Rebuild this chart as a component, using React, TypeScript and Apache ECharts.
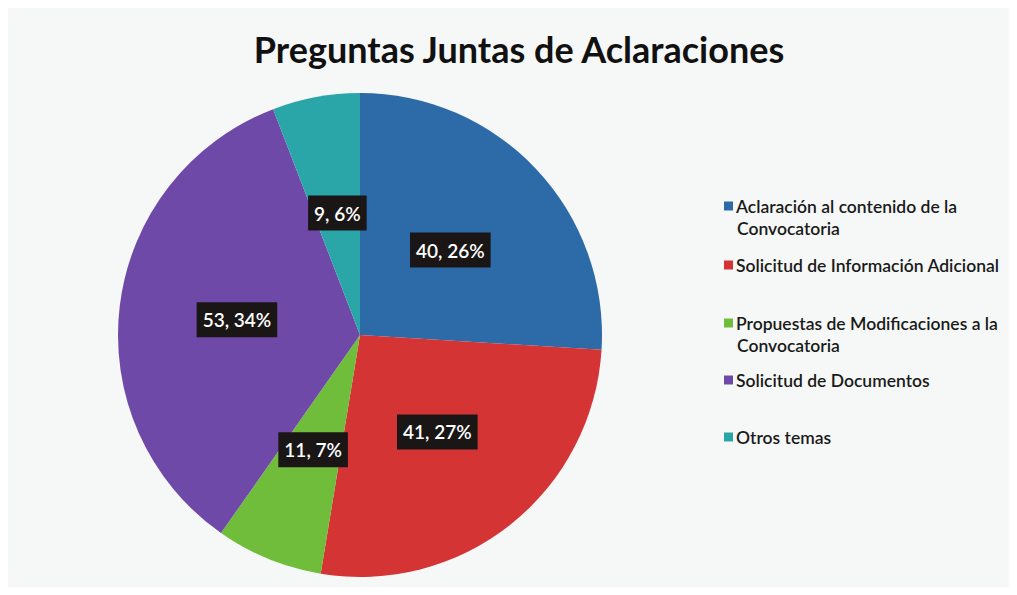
import React, { useEffect, useRef } from "react";
import * as echarts from "echarts";

const categories = [
  "Aclaración al contenido de la Convocatoria",
  "Solicitud de Información Adicional",
  "Propuestas de Modificaciones a la Convocatoria",
  "Solicitud de Documentos",
  "Otros temas",
];
const legendFirstLines = [
  "Aclaración al contenido de la",
  "Solicitud de Información Adicional",
  "Propuestas de Modificaciones a la",
  "Solicitud de Documentos",
  "Otros temas",
];
const legendSecondLines = ["Convocatoria", "", "Convocatoria", "", ""];
const values = [40, 41, 11, 53, 9];
const percents = [26, 27, 7, 34, 6];
const colors = ["#2c6aa8", "#d43434", "#6fbd3a", "#6f49a8", "#2aa6a8"];
const legendTops = [184, 243, 301, 358, 415];

export default function App() {
  const ref = useRef<HTMLDivElement>(null);
  useEffect(() => {
    if (!ref.current) return;
    const chart = echarts.init(ref.current, undefined, { renderer: "svg" });
    const font = "Lato, 'Open Sans', sans-serif";
    const legendText = {
      fontFamily: font,
      fontSize: 17.5,
      fontWeight: 600,
      color: "#1a1a1a",
    };
    chart.setOption({
      animation: false,
      backgroundColor: "#f6f8f7",
      title: {
        text: "Preguntas Juntas de Aclaraciones",
        left: 506,
        top: 18,
        textAlign: "center",
        textStyle: { fontFamily: font, fontSize: 36, fontWeight: "bold", color: "#111" },
      },
      legend: categories.map((c, i) => ({
        data: [c],
        left: 711,
        top: legendTops[i],
        orient: "vertical",
        icon: "rect",
        itemWidth: 9,
        itemHeight: 9,
        itemGap: 4,
        selectedMode: false,
        formatter: () => legendFirstLines[i],
        textStyle: { ...legendText, padding: [0, 0, 0, -2] },
      })),
      graphic: legendSecondLines
        .map((t, i) =>
          t
            ? {
                type: "text",
                left: 729,
                top: legendTops[i] + 27,
                style: { text: t, ...legendText, fill: "#1a1a1a" },
                silent: true,
              }
            : null
        )
        .filter(Boolean),
      series: [
        {
          type: "pie",
          center: [352, 327],
          radius: 242,
          startAngle: 90,
          clockwise: true,
          data: categories.map((c, i) => ({
            name: c,
            value: values[i],
            itemStyle: { color: colors[i] },
          })),
          label: {
            show: true,
            position: "inside",
            formatter: (p: any) => `${values[p.dataIndex]}, ${percents[p.dataIndex]}%`,
            color: "#fff",
            fontFamily: font,
            fontSize: 19,
            fontWeight: 600,
            backgroundColor: "#1a1616",
            padding: [8, 6],
          },
          labelLine: { show: false },
          itemStyle: { borderWidth: 0 },
          emphasis: { disabled: true },
        },
      ],
    });
    return () => chart.dispose();
  }, []);
  return <div ref={ref} style={{ width: 1001, height: 579 }} />;
}
